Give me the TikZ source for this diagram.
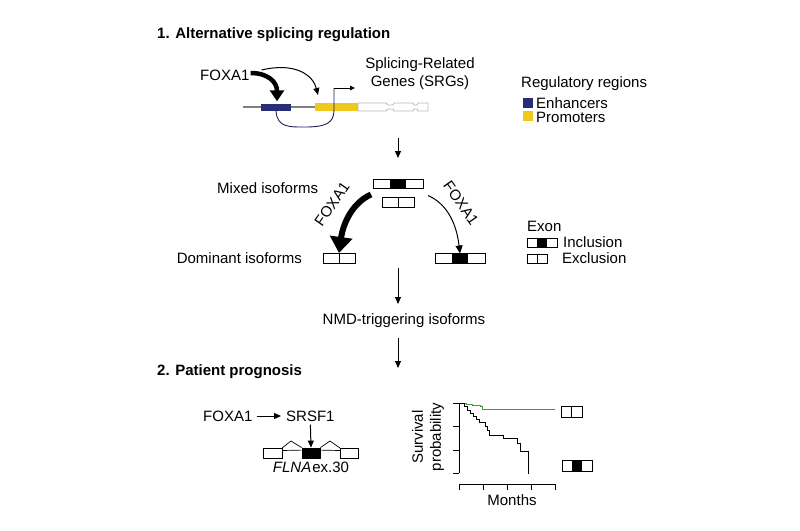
\documentclass[tikz,border=0pt]{standalone}
\usepackage{fontspec}
\setmainfont{Liberation Sans}
\usetikzlibrary{arrows.meta,calc}
\definecolor{navy}{RGB}{40,45,120}
\definecolor{gold}{RGB}{240,200,30}
\definecolor{kmgreen}{RGB}{70,150,70}
\newcommand\inclbox[5]{%
  \node[box, minimum width=#4pt, minimum height=#5pt] (#1) at (#2,#3) {};
  \fill[black] ($(#1.north west)!1/3!(#1.north east)$) rectangle ($(#1.south west)!2/3!(#1.south east)$);}
\newcommand\exclbox[5]{%
  \node[box, minimum width=#4pt, minimum height=#5pt] (#1) at (#2,#3) {};
  \draw[line width=0.8pt] (#1.north) -- (#1.south);}
\begin{document}
\begin{tikzpicture}[x=1pt,y=-1pt,
  txt/.style={inner sep=0pt, font=\fontsize{15}{18}\selectfont},
  ttl/.style={inner sep=0pt, font=\fontsize{15}{18}\selectfont\bfseries},
  box/.style={draw=black, fill=white, line width=0.8pt, inner sep=0pt, outer sep=0pt},
  arr/.style={-{Triangle[length=7pt,width=6pt]}, line width=1pt},
]
\useasboundingbox (0,0) rectangle (800,530);

% ---------- section 1 ----------
\node[ttl, anchor=west] (t1) at (157,35) {1. Alternative splicing regulation};

\node[txt, anchor=west] (fox1) at (200,75) {FOXA1};
\node[txt, align=center] (srg) at (420,74) {Splicing-Related\\Genes (SRGs)};

% gene track
\draw[gray, line width=1.5pt] (243,107) -- (358,107);
\node[fill=navy, minimum width=30pt, minimum height=7pt, inner sep=0pt] (enh) at (276,107) {};
\node[fill=gold, minimum width=43pt, minimum height=8pt, inner sep=0pt] (prom) at (336.5,107) {};
\draw[gray!55, line width=0.8pt]
  (358,103) -- (386,103) -- (388,105) -- (393,105) -- (394,103) -- (413,103) -- (414,105) -- (417,105) -- (418,103) -- (428,103)
  -- (428,111) -- (418,111) -- (417,109) -- (414,109) -- (413,111) -- (394,111) -- (393,109) -- (388,109) -- (386,111) -- (358,111) -- cycle;

% enhancer-promoter loop and TSS
\coordinate (tss) at (334,88);
\coordinate (tssend) at (355,88);
\draw[navy!70!black, line width=0.9pt] (enh.south) .. controls (277,128) and (290,127) .. (305,127)
   .. controls (326,127) and (334,123) .. (334,110) -- (tss);
\draw[-{Triangle[length=5pt,width=4.5pt]}, line width=0.9pt] (tss) -- (tssend);

% FOXA1 arrows
\draw[line width=4.5pt, -{Triangle[length=11pt,width=14pt]}] ($(fox1.east)+(1,-2)$) .. controls (268,73) and (277,82) .. ($(enh.north)+(1,-2)$);
\draw[line width=1pt, -{Triangle[length=7pt,width=6pt]}] ($(fox1.east)+(12,-5)$) .. controls (295,62) and (313,75) .. (318,95);

% legend regulatory regions
\node[txt, anchor=west] (legR) at (521,84) {Regulatory regions};
\node[fill=navy, minimum size=10pt, inner sep=0pt] (sqE) at (527.5,103) {};
\node[txt, anchor=west] (legE) at (536,103) {Enhancers};
\node[fill=gold, minimum size=10pt, inner sep=0pt] (sqP) at (527.5,116) {};
\node[txt, anchor=west] (legP) at (536,117) {Promoters};

\coordinate (a1s) at (398,138);
\draw[arr] (a1s) -- (398,158);

% mixed isoforms
\node[txt, anchor=west] (mixT) at (217,188) {Mixed isoforms};
\inclbox{mixI}{398}{184}{50}{9}
\exclbox{mixE}{398.5}{202}{32}{10}

% split arrows
\exclbox{domE}{339}{258}{32}{10}
\inclbox{domI}{460}{258.5}{50}{10}
\draw[line width=6pt, -{Triangle[length=16pt,width=22pt]}] ($(mixI.south west)+(-2,6)$) .. controls (352,203) and (343,224) .. (domE.north);
\node[txt, rotate=55] (lblL) at (332,204) {FOXA1};
\draw[line width=1pt, -{Triangle[length=8pt,width=7pt]}] ($(mixI.south east)+(5,7)$) .. controls (445,203) and (456,220) .. (domI.north);
\node[txt, rotate=-55] (lblR) at (461,203) {FOXA1};

\node[txt, anchor=east] (domT) at (302,258) {Dominant isoforms};

% exon legend
\node[txt, anchor=west] (exT) at (527,226) {Exon};
\inclbox{legI}{542}{242.5}{30}{9}
\node[txt, anchor=west] (incT) at (563,242) {Inclusion};
\exclbox{legX}{537}{258.5}{20}{9}
\node[txt, anchor=west] (excT) at (562,258) {Exclusion};

\coordinate (a2s) at (398,268);
\draw[arr] (a2s) -- (398,304);
\node[txt] (nmd) at (404,321) {NMD-triggering isoforms};
\coordinate (a3s) at (398,338);
\draw[arr] (a3s) -- (398,368);

% ---------- section 2 ----------
\node[ttl, anchor=west] (t2) at (157,372) {2. Patient prognosis};

\node[txt, anchor=west] (fox2) at (203,416) {FOXA1};
\node[txt, anchor=west] (srsf) at (286,416) {SRSF1};
\draw[arr] ($(fox2.east)+(4,0)$) -- ($(srsf.west)+(-5,0)$);

\node[box, minimum width=19pt, minimum height=10pt] (flL) at (272.5,453) {};
\node[draw=black, fill=black, line width=0.8pt, minimum width=18pt, minimum height=10pt, inner sep=0pt] (flM) at (311,453) {};
\node[box, minimum width=18pt, minimum height=10pt] (flR) at (349,453) {};
\draw[line width=0.7pt] ($(flL.north east)+(0,2.5)$) -- ($(flM.north west)+(0,2.5)$);
\draw[line width=0.7pt] ($(flM.north east)+(0,2.5)$) -- ($(flR.north west)+(0,2.5)$);
\draw[line width=0.7pt] (flL.north east) -- (291,441) -- (flM.north west);
\draw[line width=0.7pt] (flM.north east) -- (330,441) -- (flR.north west);
\draw[arr] (srsf.south) ++(0,3) coordinate (sd) (sd) -- (flM.north);
\node[txt] (flna) at (311,467) {{\itshape FLNA}\hspace{1pt}ex.30};

% survival plot
\coordinate (yt) at (459,403);
\coordinate (yb) at (459,473);
\draw[line width=0.9pt] (yt) -- (yb);
\foreach \y in {403,426.5,450,473} \draw[line width=0.9pt] (453,\y) -- (459,\y);
\coordinate (xl) at (459,484);
\coordinate (xr) at (555,484);
\draw[line width=0.9pt] (xl) -- (xr);
\foreach \x in {459,483,507,531,555} \draw[line width=0.9pt] (\x,484) -- (\x,490);
\node[txt, rotate=90, align=center] (ylab) at (428,437) {Survival\\probability};
\node[txt] (months) at (512,500) {Months};

\draw[kmgreen, line width=1pt] (460,403) -- (466,403) -- (466,404) -- (472,404) -- (472,405) -- (480,405) -- (480,406.5) -- (482,406.5) -- (482,409) -- (555,409);
\draw[black, line width=1pt] (460,403) -- (464,403) -- (464,406) -- (467,406) -- (467,410) -- (470,410) -- (470,413) -- (473,413) -- (473,416)
  -- (476,416) -- (476,419) -- (479,419) -- (479,422) -- (485,422) -- (485,426) -- (487,426) -- (487,430) -- (489,430) -- (489,435)
  -- (503,435) -- (503,438) -- (517,438) -- (517,443) -- (520,443) -- (520,451) -- (528,451) -- (528,474);

\exclbox{kmE}{571.5}{411.5}{21}{11}
\inclbox{kmI}{577}{465.5}{30}{11}
\end{tikzpicture}
\end{document}
